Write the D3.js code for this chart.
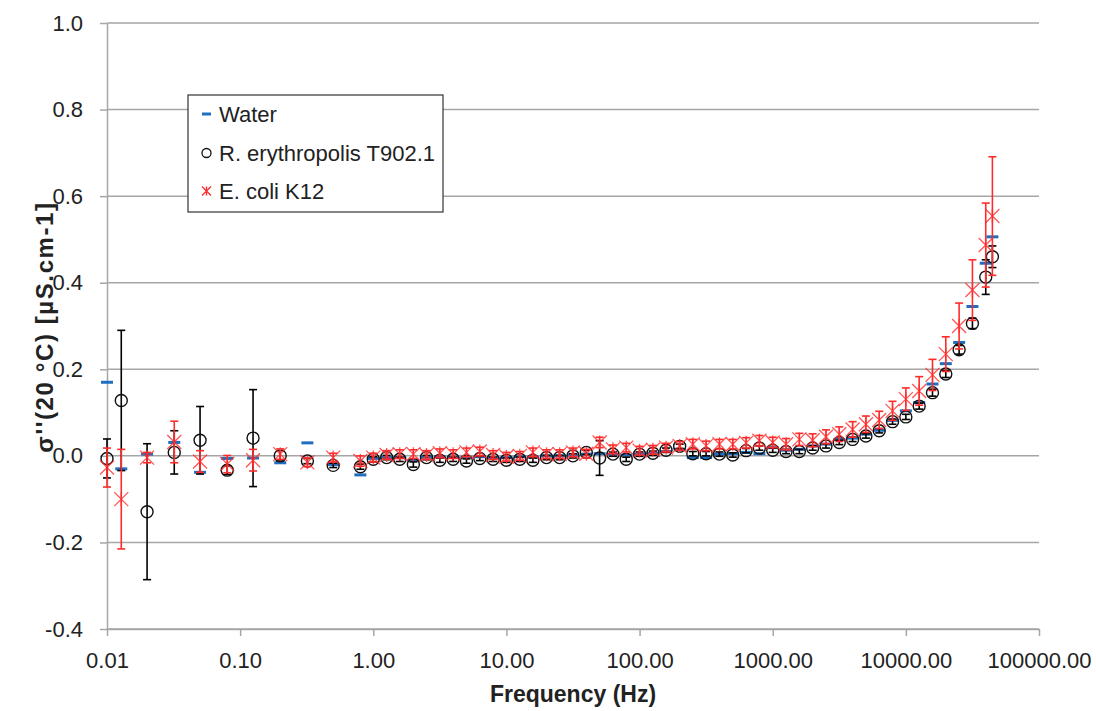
<!DOCTYPE html>
<html>
<head>
<meta charset="utf-8">
<script src="https://cdnjs.cloudflare.com/ajax/libs/d3/7.8.5/d3.min.js"></script>
<style>
body { margin: 0; background: #fff; }
svg { font-family: "Liberation Sans", Arial, sans-serif; display: block; }
</style>
</head>
<body>
<svg></svg>
<script>
// frequencies (Hz)
let freq = [0.01, 0.0128, 0.02, 0.032, 0.05, 0.08, 0.125, 0.2, 0.32, 0.5, 0.8,
    1, 1.26, 1.58, 2, 2.51, 3.16, 3.98, 5.01, 6.31, 7.94,
    10, 12.6, 15.8, 20, 25.1, 31.6, 39.8, 50.1, 63.1, 79.4,
    100, 126, 158, 200, 251, 316, 398, 501, 631, 794,
    1000, 1259, 1585, 1995, 2512, 3162, 3981, 5012, 6310, 7943,
    10000, 12589, 15849, 19953, 25119, 31623, 39811, 44668]

let water = [0.17, -0.03, 0.004, 0.031, -0.038, -0.006, -0.005, -0.016, 0.03, -0.02, -0.044,
    -0.006, -0.004, -0.004, -0.01, -0.003, -0.002, -0.003, -0.003, -0.002, -0.004,
    -0.004, -0.002, -0.003, 0.0, 0.0, 0.002, 0.004, 0.005, 0.004, 0.002,
    0.004, 0.006, 0.01, 0.015, -0.004, -0.004, 0.004, 0.005, 0.008, 0.005,
    0.019, 0.013, 0.015, 0.023, 0.027, 0.038, 0.041, 0.05, 0.059, 0.082,
    0.104, 0.123, 0.166, 0.213, 0.262, 0.345, 0.445, 0.506]

let rery = [-0.006, 0.128, -0.129, 0.008, 0.036, -0.033, 0.041, 0.0, -0.012, -0.022, -0.025,
    -0.008, -0.004, -0.008, -0.02, -0.004, -0.01, -0.008, -0.012, -0.006, -0.008,
    -0.01, -0.008, -0.01, -0.004, -0.004, 0.0, 0.008, -0.005, 0.004, -0.008,
    0.004, 0.006, 0.013, 0.022, 0.005, 0.005, 0.004, 0.002, 0.012, 0.018,
    0.013, 0.01, 0.01, 0.018, 0.023, 0.031, 0.038, 0.046, 0.058, 0.079,
    0.09, 0.115, 0.146, 0.189, 0.245, 0.306, 0.413, 0.46]

let reryErr = [0.045, 0.162, 0.157, 0.05, 0.078, 0.01, 0.112, 0.012, 0.006, 0.005, 0.006,
    0.006, 0.005, 0.005, 0.006, 0.005, 0.005, 0.005, 0.005, 0.005, 0.005,
    0.005, 0.005, 0.005, 0.005, 0.005, 0.005, 0.005, 0.04, 0.005, 0.005,
    0.005, 0.005, 0.005, 0.005, 0.005, 0.005, 0.005, 0.005, 0.005, 0.005,
    0.005, 0.005, 0.005, 0.005, 0.005, 0.005, 0.005, 0.005, 0.005, 0.006,
    0.006, 0.007, 0.008, 0.008, 0.01, 0.012, 0.04, 0.025]

let ecoli = [-0.027, -0.1, -0.004, 0.032, -0.013, -0.019, -0.01, 0.004, -0.015, -0.004, -0.012,
    -0.004, 0.002, 0.004, 0.004, 0.002, 0.006, 0.004, 0.008, 0.01, 0.002,
    -0.002, 0.0, 0.008, 0.004, 0.004, 0.008, 0.005, 0.031, 0.015, 0.019,
    0.012, 0.014, 0.019, 0.023, 0.027, 0.023, 0.027, 0.027, 0.03, 0.035,
    0.031, 0.027, 0.038, 0.036, 0.044, 0.05, 0.061, 0.073, 0.083, 0.104,
    0.131, 0.15, 0.187, 0.235, 0.3, 0.383, 0.487, 0.554]

let ecoliErr = [0.045, 0.115, 0.012, 0.048, 0.025, 0.02, 0.025, 0.012, 0.01, 0.01, 0.012,
    0.01, 0.01, 0.01, 0.01, 0.01, 0.01, 0.01, 0.01, 0.01, 0.01,
    0.01, 0.01, 0.01, 0.01, 0.01, 0.01, 0.01, 0.012, 0.01, 0.01,
    0.01, 0.01, 0.01, 0.01, 0.011, 0.011, 0.011, 0.011, 0.012, 0.012,
    0.012, 0.013, 0.014, 0.015, 0.016, 0.017, 0.018, 0.019, 0.02, 0.022,
    0.026, 0.033, 0.036, 0.04, 0.053, 0.07, 0.097, 0.137]

let seriesNames = ["Water", "R. erythropolis T902.1", "E. coli K12"]
let xTicks = [0.01, 0.1, 1, 10, 100, 1000, 10000, 100000]
let xTickLabels = ["0.01", "0.10", "1.00", "10.00", "100.00", "1000.00", "10000.00", "100000.00"]
let yTicks = [-0.4, -0.2, 0.0, 0.2, 0.4, 0.6, 0.8, 1.0]

let width = 1096
let height = 711
let plotLeft = 107
let plotRight = 1039
let plotTop = 23
let plotBottom = 629

let blue = "#1f6fc0"
let red = "#ff2b2b"
let grid = "#a6a6a6"

let svg = d3.select("svg").attr("width", width).attr("height", height)

let xScale = d3.scaleLog().domain([0.01, 100000]).range([plotLeft, plotRight])
let yScale = d3.scaleLinear().domain([-0.4, 1.0]).range([plotBottom, plotTop])

let rows = freq.map((f, i) => ({
    f: f, w: water[i], r: rery[i], rErr: reryErr[i], e: ecoli[i], eErr: ecoliErr[i]
}))

// gridlines
svg.append("g")
    .selectAll("line")
    .data(yTicks)
    .enter()
    .append("line")
    .attr("x1", plotLeft)
    .attr("x2", plotRight)
    .attr("y1", d => yScale(d))
    .attr("y2", d => yScale(d))
    .attr("stroke", grid)
    .attr("stroke-width", 1.5)

// axes
let xAxis = d3.axisBottom(xScale)
    .tickValues(xTicks)
    .tickFormat((d, i) => xTickLabels[i])
    .tickSize(7)
    .tickSizeOuter(0)
    .tickPadding(16)

let yAxis = d3.axisLeft(yScale)
    .tickValues(yTicks)
    .tickFormat(d => d.toFixed(1))
    .tickSize(7)
    .tickSizeOuter(0)
    .tickPadding(17)

let gx = svg.append("g")
    .attr("transform", "translate(0," + plotBottom + ")")
    .call(xAxis)

let gy = svg.append("g")
    .attr("transform", "translate(" + plotLeft + ",0)")
    .call(yAxis)

for (let g of [gx, gy]) {
    g.select(".domain").attr("stroke", grid).attr("stroke-width", 1.5)
    g.selectAll(".tick line").attr("stroke", grid).attr("stroke-width", 1.5)
    g.selectAll(".tick text")
        .attr("font-size", 22)
        .attr("fill", "#222")
        .attr("font-family", "Liberation Sans, Arial, sans-serif")
}

// axis titles
svg.append("text")
    .attr("x", (plotLeft + plotRight) / 2)
    .attr("y", 702)
    .attr("text-anchor", "middle")
    .attr("font-size", 23)
    .attr("font-weight", "bold")
    .attr("fill", "#222")
    .text("Frequency (Hz)")

svg.append("text")
    .attr("transform", "translate(53," + 327 + ") rotate(-90)")
    .attr("text-anchor", "middle")
    .attr("font-size", 24)
    .attr("font-weight", "bold")
    .attr("letter-spacing", 1.6)
    .attr("fill", "#222")
    .text("σ''(20 °C) [µS.cm-1]")

// error bars helper
let drawErrors = (key, errKey, color) => {
    let g = svg.append("g").attr("stroke", color).attr("stroke-width", 1.6)
    let sel = g.selectAll("g").data(rows).enter().append("g")
    sel.append("line")
        .attr("x1", d => xScale(d.f)).attr("x2", d => xScale(d.f))
        .attr("y1", d => yScale(d[key] + d[errKey]))
        .attr("y2", d => yScale(d[key] - d[errKey]))
    sel.append("line")
        .attr("x1", d => xScale(d.f) - 4).attr("x2", d => xScale(d.f) + 4)
        .attr("y1", d => yScale(d[key] + d[errKey]))
        .attr("y2", d => yScale(d[key] + d[errKey]))
    sel.append("line")
        .attr("x1", d => xScale(d.f) - 4).attr("x2", d => xScale(d.f) + 4)
        .attr("y1", d => yScale(d[key] - d[errKey]))
        .attr("y2", d => yScale(d[key] - d[errKey]))
}

let starPath = (cx, cy, s) => {
    return "M" + (cx - s) + "," + (cy - s) + "L" + (cx + s) + "," + (cy + s) +
        "M" + (cx - s) + "," + (cy + s) + "L" + (cx + s) + "," + (cy - s) +
        "M" + cx + "," + (cy - s) + "L" + cx + "," + (cy + s)
}

// Water
svg.append("g")
    .selectAll("line")
    .data(rows)
    .enter()
    .append("line")
    .attr("x1", d => xScale(d.f) - 6)
    .attr("x2", d => xScale(d.f) + 6)
    .attr("y1", d => yScale(d.w))
    .attr("y2", d => yScale(d.w))
    .attr("stroke", blue)
    .attr("stroke-width", 3)

// R. erythropolis
drawErrors("r", "rErr", "#000")
svg.append("g")
    .selectAll("circle")
    .data(rows)
    .enter()
    .append("circle")
    .attr("cx", d => xScale(d.f))
    .attr("cy", d => yScale(d.r))
    .attr("r", 6)
    .attr("fill", "none")
    .attr("stroke", "#111")
    .attr("stroke-width", 1.4)

// E. coli
drawErrors("e", "eErr", red)
svg.append("g")
    .selectAll("path")
    .data(rows)
    .enter()
    .append("path")
    .attr("d", d => starPath(xScale(d.f), yScale(d.e), 7))
    .attr("fill", "none")
    .attr("stroke", red)
    .attr("stroke-width", 1.3)
    .attr("opacity", 0.8)

// legend
let legend = svg.append("g").attr("transform", "translate(188,95)")
legend.append("rect")
    .attr("width", 255)
    .attr("height", 117)
    .attr("fill", "#fff")
    .attr("stroke", "#333")
    .attr("stroke-width", 1.2)

let rowY = [19, 58, 96]
legend.append("line")
    .attr("x1", 14).attr("x2", 23)
    .attr("y1", rowY[0]).attr("y2", rowY[0])
    .attr("stroke", blue).attr("stroke-width", 3)
legend.append("circle")
    .attr("cx", 18.5).attr("cy", rowY[1]).attr("r", 4.5)
    .attr("fill", "none").attr("stroke", "#111").attr("stroke-width", 1.3)
legend.append("path")
    .attr("d", starPath(18.5, rowY[2], 4.5))
    .attr("fill", "none").attr("stroke", red).attr("stroke-width", 1.3)

legend.selectAll("text")
    .data(seriesNames)
    .enter()
    .append("text")
    .attr("x", 31)
    .attr("y", (d, i) => rowY[i])
    .attr("dy", "0.35em")
    .attr("font-size", 22)
    .attr("fill", "#222")
    .text(d => d)
</script>
</body>
</html>
